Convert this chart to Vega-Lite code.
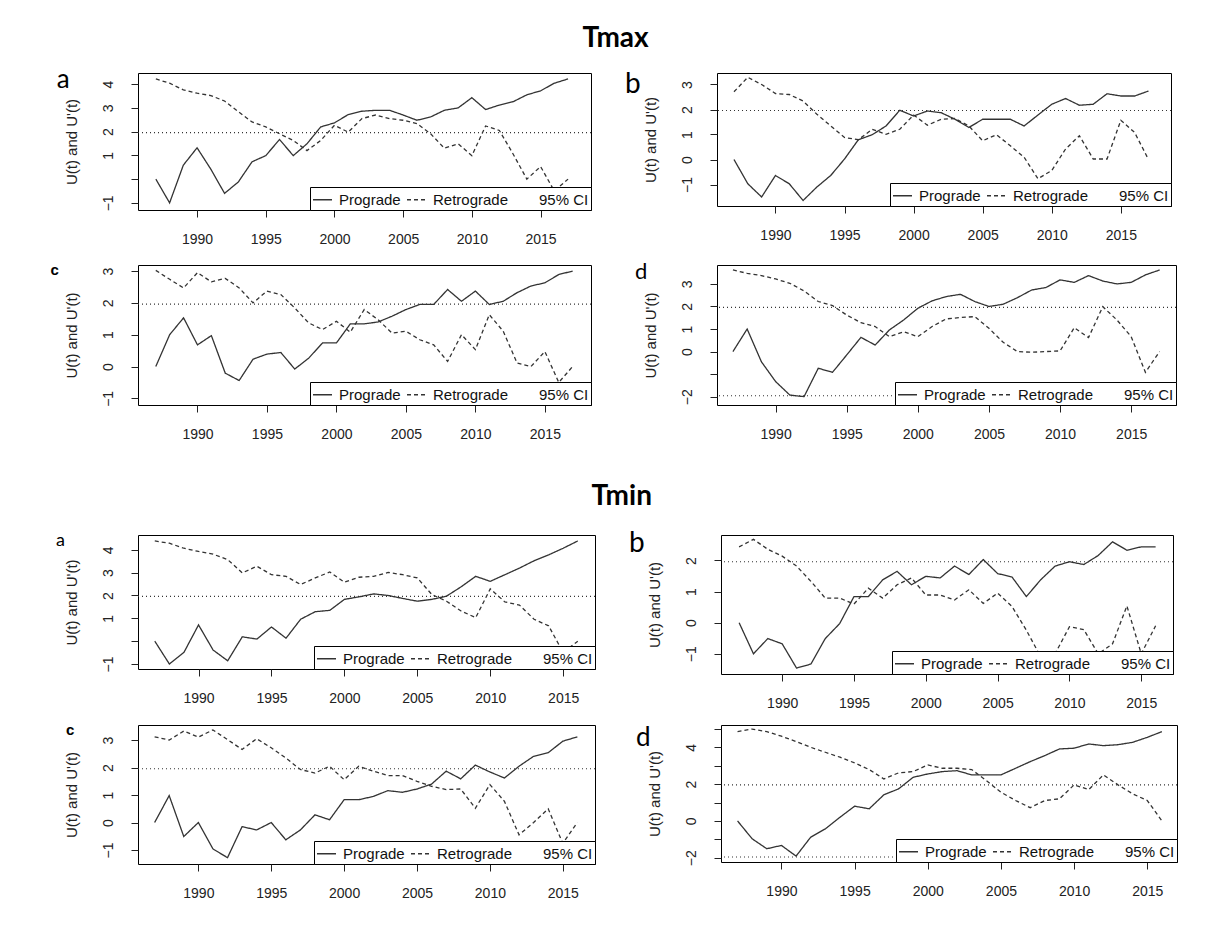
{
"$schema": "https://vega.github.io/schema/vega-lite/v6.json",
"background": "white",
"padding": {"left": 50, "top": 24, "right": 20, "bottom": 20},
"datasets": {
"ci": [
{"panel":"Tmax a","series":"95% CI","u":1.96},
{"panel":"Tmax b","series":"95% CI","u":1.96},
{"panel":"Tmax c","series":"95% CI","u":1.96},
{"panel":"Tmax d","series":"95% CI","u":1.96},
{"panel":"Tmax d","series":"95% CI","u":-1.96},
{"panel":"Tmin a","series":"95% CI","u":1.96},
{"panel":"Tmin b","series":"95% CI","u":1.96},
{"panel":"Tmin c","series":"95% CI","u":1.96},
{"panel":"Tmin d","series":"95% CI","u":1.96},
{"panel":"Tmin d","series":"95% CI","u":-1.96}
],
"mk": [
{"panel":"Tmax a","year":1987,"Prograde":0,"Retrograde":4.22},
{"panel":"Tmax a","year":1988,"Prograde":-1.0,"Retrograde":4.04},
{"panel":"Tmax a","year":1989,"Prograde":0.59,"Retrograde":3.76},
{"panel":"Tmax a","year":1990,"Prograde":1.32,"Retrograde":3.62},
{"panel":"Tmax a","year":1991,"Prograde":0.42,"Retrograde":3.52},
{"panel":"Tmax a","year":1992,"Prograde":-0.6,"Retrograde":3.29},
{"panel":"Tmax a","year":1993,"Prograde":-0.12,"Retrograde":2.84},
{"panel":"Tmax a","year":1994,"Prograde":0.73,"Retrograde":2.41},
{"panel":"Tmax a","year":1995,"Prograde":0.99,"Retrograde":2.2},
{"panel":"Tmax a","year":1996,"Prograde":1.67,"Retrograde":1.91},
{"panel":"Tmax a","year":1997,"Prograde":0.99,"Retrograde":1.63},
{"panel":"Tmax a","year":1998,"Prograde":1.49,"Retrograde":1.2},
{"panel":"Tmax a","year":1999,"Prograde":2.2,"Retrograde":1.63},
{"panel":"Tmax a","year":2000,"Prograde":2.37,"Retrograde":2.27},
{"panel":"Tmax a","year":2001,"Prograde":2.72,"Retrograde":1.98},
{"panel":"Tmax a","year":2002,"Prograde":2.86,"Retrograde":2.55},
{"panel":"Tmax a","year":2003,"Prograde":2.9,"Retrograde":2.7},
{"panel":"Tmax a","year":2004,"Prograde":2.9,"Retrograde":2.55},
{"panel":"Tmax a","year":2005,"Prograde":2.7,"Retrograde":2.48},
{"panel":"Tmax a","year":2006,"Prograde":2.48,"Retrograde":2.34},
{"panel":"Tmax a","year":2007,"Prograde":2.62,"Retrograde":1.91},
{"panel":"Tmax a","year":2008,"Prograde":2.9,"Retrograde":1.3},
{"panel":"Tmax a","year":2009,"Prograde":3.0,"Retrograde":1.49},
{"panel":"Tmax a","year":2010,"Prograde":3.43,"Retrograde":0.99},
{"panel":"Tmax a","year":2011,"Prograde":2.93,"Retrograde":2.24},
{"panel":"Tmax a","year":2012,"Prograde":3.12,"Retrograde":2.05},
{"panel":"Tmax a","year":2013,"Prograde":3.26,"Retrograde":1.06},
{"panel":"Tmax a","year":2014,"Prograde":3.55,"Retrograde":0.0},
{"panel":"Tmax a","year":2015,"Prograde":3.72,"Retrograde":0.53},
{"panel":"Tmax a","year":2016,"Prograde":4.04,"Retrograde":-0.5},
{"panel":"Tmax a","year":2017,"Prograde":4.22,"Retrograde":0},
{"panel":"Tmax b","year":1987,"Prograde":0,"Retrograde":2.71},
{"panel":"Tmax b","year":1988,"Prograde":-0.97,"Retrograde":3.29},
{"panel":"Tmax b","year":1989,"Prograde":-1.5,"Retrograde":3.0},
{"panel":"Tmax b","year":1990,"Prograde":-0.64,"Retrograde":2.64},
{"panel":"Tmax b","year":1991,"Prograde":-0.97,"Retrograde":2.6},
{"panel":"Tmax b","year":1992,"Prograde":-1.64,"Retrograde":2.34},
{"panel":"Tmax b","year":1993,"Prograde":-1.1,"Retrograde":1.81},
{"panel":"Tmax b","year":1994,"Prograde":-0.64,"Retrograde":1.34},
{"panel":"Tmax b","year":1995,"Prograde":0.02,"Retrograde":0.88},
{"panel":"Tmax b","year":1996,"Prograde":0.79,"Retrograde":0.79},
{"panel":"Tmax b","year":1997,"Prograde":0.99,"Retrograde":1.21},
{"panel":"Tmax b","year":1998,"Prograde":1.34,"Retrograde":1.01},
{"panel":"Tmax b","year":1999,"Prograde":1.97,"Retrograde":1.21},
{"panel":"Tmax b","year":2000,"Prograde":1.74,"Retrograde":1.78},
{"panel":"Tmax b","year":2001,"Prograde":1.94,"Retrograde":1.37},
{"panel":"Tmax b","year":2002,"Prograde":1.87,"Retrograde":1.61},
{"panel":"Tmax b","year":2003,"Prograde":1.61,"Retrograde":1.64},
{"panel":"Tmax b","year":2004,"Prograde":1.28,"Retrograde":1.34},
{"panel":"Tmax b","year":2005,"Prograde":1.61,"Retrograde":0.75},
{"panel":"Tmax b","year":2006,"Prograde":1.61,"Retrograde":0.99},
{"panel":"Tmax b","year":2007,"Prograde":1.61,"Retrograde":0.55},
{"panel":"Tmax b","year":2008,"Prograde":1.34,"Retrograde":0.09},
{"panel":"Tmax b","year":2009,"Prograde":1.78,"Retrograde":-0.77},
{"panel":"Tmax b","year":2010,"Prograde":2.21,"Retrograde":-0.44},
{"panel":"Tmax b","year":2011,"Prograde":2.44,"Retrograde":0.42},
{"panel":"Tmax b","year":2012,"Prograde":2.17,"Retrograde":0.95},
{"panel":"Tmax b","year":2013,"Prograde":2.21,"Retrograde":0.02},
{"panel":"Tmax b","year":2014,"Prograde":2.63,"Retrograde":0.02},
{"panel":"Tmax b","year":2015,"Prograde":2.54,"Retrograde":1.57},
{"panel":"Tmax b","year":2016,"Prograde":2.54,"Retrograde":1.08},
{"panel":"Tmax b","year":2017,"Prograde":2.74,"Retrograde":0},
{"panel":"Tmax c","year":1987,"Prograde":0,"Retrograde":3.02},
{"panel":"Tmax c","year":1988,"Prograde":1.0,"Retrograde":2.74},
{"panel":"Tmax c","year":1989,"Prograde":1.53,"Retrograde":2.47},
{"panel":"Tmax c","year":1990,"Prograde":0.68,"Retrograde":2.95},
{"panel":"Tmax c","year":1991,"Prograde":0.97,"Retrograde":2.66},
{"panel":"Tmax c","year":1992,"Prograde":-0.21,"Retrograde":2.77},
{"panel":"Tmax c","year":1993,"Prograde":-0.44,"Retrograde":2.47},
{"panel":"Tmax c","year":1994,"Prograde":0.23,"Retrograde":2.0},
{"panel":"Tmax c","year":1995,"Prograde":0.39,"Retrograde":2.37},
{"panel":"Tmax c","year":1996,"Prograde":0.44,"Retrograde":2.26},
{"panel":"Tmax c","year":1997,"Prograde":-0.08,"Retrograde":1.84},
{"panel":"Tmax c","year":1998,"Prograde":0.26,"Retrograde":1.37},
{"panel":"Tmax c","year":1999,"Prograde":0.74,"Retrograde":1.16},
{"panel":"Tmax c","year":2000,"Prograde":0.74,"Retrograde":1.42},
{"panel":"Tmax c","year":2001,"Prograde":1.34,"Retrograde":1.08},
{"panel":"Tmax c","year":2002,"Prograde":1.34,"Retrograde":1.79},
{"panel":"Tmax c","year":2003,"Prograde":1.4,"Retrograde":1.47},
{"panel":"Tmax c","year":2004,"Prograde":1.58,"Retrograde":1.05},
{"panel":"Tmax c","year":2005,"Prograde":1.79,"Retrograde":1.11},
{"panel":"Tmax c","year":2006,"Prograde":1.95,"Retrograde":0.84},
{"panel":"Tmax c","year":2007,"Prograde":1.95,"Retrograde":0.68},
{"panel":"Tmax c","year":2008,"Prograde":2.42,"Retrograde":0.16},
{"panel":"Tmax c","year":2009,"Prograde":2.05,"Retrograde":1.0},
{"panel":"Tmax c","year":2010,"Prograde":2.37,"Retrograde":0.53},
{"panel":"Tmax c","year":2011,"Prograde":1.95,"Retrograde":1.63},
{"panel":"Tmax c","year":2012,"Prograde":2.05,"Retrograde":1.11},
{"panel":"Tmax c","year":2013,"Prograde":2.32,"Retrograde":0.11},
{"panel":"Tmax c","year":2014,"Prograde":2.53,"Retrograde":0.0},
{"panel":"Tmax c","year":2015,"Prograde":2.63,"Retrograde":0.47},
{"panel":"Tmax c","year":2016,"Prograde":2.89,"Retrograde":-0.5},
{"panel":"Tmax c","year":2017,"Prograde":3.0,"Retrograde":0},
{"panel":"Tmax d","year":1987,"Prograde":0,"Retrograde":3.62},
{"panel":"Tmax d","year":1988,"Prograde":1.0,"Retrograde":3.47},
{"panel":"Tmax d","year":1989,"Prograde":-0.45,"Retrograde":3.37},
{"panel":"Tmax d","year":1990,"Prograde":-1.33,"Retrograde":3.22},
{"panel":"Tmax d","year":1991,"Prograde":-1.93,"Retrograde":3.03},
{"panel":"Tmax d","year":1992,"Prograde":-2.0,"Retrograde":2.69},
{"panel":"Tmax d","year":1993,"Prograde":-0.74,"Retrograde":2.22},
{"panel":"Tmax d","year":1994,"Prograde":-0.92,"Retrograde":2.04},
{"panel":"Tmax d","year":1995,"Prograde":-0.15,"Retrograde":1.62},
{"panel":"Tmax d","year":1996,"Prograde":0.63,"Retrograde":1.28},
{"panel":"Tmax d","year":1997,"Prograde":0.29,"Retrograde":1.11},
{"panel":"Tmax d","year":1998,"Prograde":0.96,"Retrograde":0.66},
{"panel":"Tmax d","year":1999,"Prograde":1.4,"Retrograde":0.88},
{"panel":"Tmax d","year":2000,"Prograde":1.92,"Retrograde":0.66},
{"panel":"Tmax d","year":2001,"Prograde":2.25,"Retrograde":1.11},
{"panel":"Tmax d","year":2002,"Prograde":2.44,"Retrograde":1.45},
{"panel":"Tmax d","year":2003,"Prograde":2.54,"Retrograde":1.51},
{"panel":"Tmax d","year":2004,"Prograde":2.22,"Retrograde":1.55},
{"panel":"Tmax d","year":2005,"Prograde":2.0,"Retrograde":1.03},
{"panel":"Tmax d","year":2006,"Prograde":2.1,"Retrograde":0.41},
{"panel":"Tmax d","year":2007,"Prograde":2.39,"Retrograde":0.0},
{"panel":"Tmax d","year":2008,"Prograde":2.73,"Retrograde":-0.03},
{"panel":"Tmax d","year":2009,"Prograde":2.84,"Retrograde":0.0},
{"panel":"Tmax d","year":2010,"Prograde":3.18,"Retrograde":0.03},
{"panel":"Tmax d","year":2011,"Prograde":3.07,"Retrograde":1.06},
{"panel":"Tmax d","year":2012,"Prograde":3.37,"Retrograde":0.62},
{"panel":"Tmax d","year":2013,"Prograde":3.13,"Retrograde":1.99},
{"panel":"Tmax d","year":2014,"Prograde":3.0,"Retrograde":1.4},
{"panel":"Tmax d","year":2015,"Prograde":3.07,"Retrograde":0.66},
{"panel":"Tmax d","year":2016,"Prograde":3.4,"Retrograde":-0.92},
{"panel":"Tmax d","year":2017,"Prograde":3.62,"Retrograde":0},
{"panel":"Tmin a","year":1987,"Prograde":0,"Retrograde":4.39},
{"panel":"Tmin a","year":1988,"Prograde":-1.0,"Retrograde":4.29},
{"panel":"Tmin a","year":1989,"Prograde":-0.49,"Retrograde":4.07},
{"panel":"Tmin a","year":1990,"Prograde":0.71,"Retrograde":3.93},
{"panel":"Tmin a","year":1991,"Prograde":-0.39,"Retrograde":3.81},
{"panel":"Tmin a","year":1992,"Prograde":-0.86,"Retrograde":3.57},
{"panel":"Tmin a","year":1993,"Prograde":0.19,"Retrograde":2.99},
{"panel":"Tmin a","year":1994,"Prograde":0.09,"Retrograde":3.28},
{"panel":"Tmin a","year":1995,"Prograde":0.62,"Retrograde":2.91},
{"panel":"Tmin a","year":1996,"Prograde":0.13,"Retrograde":2.84},
{"panel":"Tmin a","year":1997,"Prograde":0.96,"Retrograde":2.48},
{"panel":"Tmin a","year":1998,"Prograde":1.29,"Retrograde":2.77},
{"panel":"Tmin a","year":1999,"Prograde":1.35,"Retrograde":3.03},
{"panel":"Tmin a","year":2000,"Prograde":1.83,"Retrograde":2.58},
{"panel":"Tmin a","year":2001,"Prograde":1.94,"Retrograde":2.8},
{"panel":"Tmin a","year":2002,"Prograde":2.07,"Retrograde":2.84},
{"panel":"Tmin a","year":2003,"Prograde":2.0,"Retrograde":3.01},
{"panel":"Tmin a","year":2004,"Prograde":1.87,"Retrograde":2.91},
{"panel":"Tmin a","year":2005,"Prograde":1.75,"Retrograde":2.77},
{"panel":"Tmin a","year":2006,"Prograde":1.83,"Retrograde":2.04},
{"panel":"Tmin a","year":2007,"Prograde":1.97,"Retrograde":1.75},
{"panel":"Tmin a","year":2008,"Prograde":2.38,"Retrograde":1.32},
{"panel":"Tmin a","year":2009,"Prograde":2.84,"Retrograde":1.03},
{"panel":"Tmin a","year":2010,"Prograde":2.62,"Retrograde":2.29},
{"panel":"Tmin a","year":2011,"Prograde":2.91,"Retrograde":1.72},
{"panel":"Tmin a","year":2012,"Prograde":3.2,"Retrograde":1.58},
{"panel":"Tmin a","year":2013,"Prograde":3.52,"Retrograde":0.96},
{"panel":"Tmin a","year":2014,"Prograde":3.78,"Retrograde":0.67},
{"panel":"Tmin a","year":2015,"Prograde":4.07,"Retrograde":-0.5},
{"panel":"Tmin a","year":2016,"Prograde":4.39,"Retrograde":0},
{"panel":"Tmin b","year":1987,"Prograde":0,"Retrograde":2.44},
{"panel":"Tmin b","year":1988,"Prograde":-1.0,"Retrograde":2.68},
{"panel":"Tmin b","year":1989,"Prograde":-0.51,"Retrograde":2.36},
{"panel":"Tmin b","year":1990,"Prograde":-0.68,"Retrograde":2.14},
{"panel":"Tmin b","year":1991,"Prograde":-1.46,"Retrograde":1.82},
{"panel":"Tmin b","year":1992,"Prograde":-1.33,"Retrograde":1.33},
{"panel":"Tmin b","year":1993,"Prograde":-0.51,"Retrograde":0.79},
{"panel":"Tmin b","year":1994,"Prograde":-0.03,"Retrograde":0.79},
{"panel":"Tmin b","year":1995,"Prograde":0.84,"Retrograde":0.6},
{"panel":"Tmin b","year":1996,"Prograde":0.84,"Retrograde":1.11},
{"panel":"Tmin b","year":1997,"Prograde":1.38,"Retrograde":0.79},
{"panel":"Tmin b","year":1998,"Prograde":1.65,"Retrograde":1.22},
{"panel":"Tmin b","year":1999,"Prograde":1.22,"Retrograde":1.44},
{"panel":"Tmin b","year":2000,"Prograde":1.49,"Retrograde":0.89},
{"panel":"Tmin b","year":2001,"Prograde":1.44,"Retrograde":0.89},
{"panel":"Tmin b","year":2002,"Prograde":1.82,"Retrograde":0.73},
{"panel":"Tmin b","year":2003,"Prograde":1.55,"Retrograde":1.06},
{"panel":"Tmin b","year":2004,"Prograde":2.03,"Retrograde":0.62},
{"panel":"Tmin b","year":2005,"Prograde":1.58,"Retrograde":0.95},
{"panel":"Tmin b","year":2006,"Prograde":1.47,"Retrograde":0.52},
{"panel":"Tmin b","year":2007,"Prograde":0.84,"Retrograde":-0.24},
{"panel":"Tmin b","year":2008,"Prograde":1.38,"Retrograde":-1.1},
{"panel":"Tmin b","year":2009,"Prograde":1.82,"Retrograde":-1.0},
{"panel":"Tmin b","year":2010,"Prograde":1.96,"Retrograde":-0.13},
{"panel":"Tmin b","year":2011,"Prograde":1.87,"Retrograde":-0.22},
{"panel":"Tmin b","year":2012,"Prograde":2.16,"Retrograde":-1.0},
{"panel":"Tmin b","year":2013,"Prograde":2.6,"Retrograde":-0.68},
{"panel":"Tmin b","year":2014,"Prograde":2.33,"Retrograde":0.54},
{"panel":"Tmin b","year":2015,"Prograde":2.44,"Retrograde":-1.0},
{"panel":"Tmin b","year":2016,"Prograde":2.44,"Retrograde":-0.1},
{"panel":"Tmin c","year":1987,"Prograde":0,"Retrograde":3.12},
{"panel":"Tmin c","year":1988,"Prograde":0.98,"Retrograde":3.0},
{"panel":"Tmin c","year":1989,"Prograde":-0.51,"Retrograde":3.33},
{"panel":"Tmin c","year":1990,"Prograde":0,"Retrograde":3.11},
{"panel":"Tmin c","year":1991,"Prograde":-0.96,"Retrograde":3.37},
{"panel":"Tmin c","year":1992,"Prograde":-1.28,"Retrograde":3.02},
{"panel":"Tmin c","year":1993,"Prograde":-0.15,"Retrograde":2.66},
{"panel":"Tmin c","year":1994,"Prograde":-0.27,"Retrograde":3.05},
{"panel":"Tmin c","year":1995,"Prograde":0.0,"Retrograde":2.72},
{"panel":"Tmin c","year":1996,"Prograde":-0.63,"Retrograde":2.35},
{"panel":"Tmin c","year":1997,"Prograde":-0.27,"Retrograde":1.93},
{"panel":"Tmin c","year":1998,"Prograde":0.28,"Retrograde":1.8},
{"panel":"Tmin c","year":1999,"Prograde":0.1,"Retrograde":2.05},
{"panel":"Tmin c","year":2000,"Prograde":0.83,"Retrograde":1.56},
{"panel":"Tmin c","year":2001,"Prograde":0.83,"Retrograde":2.05},
{"panel":"Tmin c","year":2002,"Prograde":0.95,"Retrograde":1.87},
{"panel":"Tmin c","year":2003,"Prograde":1.16,"Retrograde":1.71},
{"panel":"Tmin c","year":2004,"Prograde":1.1,"Retrograde":1.71},
{"panel":"Tmin c","year":2005,"Prograde":1.22,"Retrograde":1.5},
{"panel":"Tmin c","year":2006,"Prograde":1.4,"Retrograde":1.32},
{"panel":"Tmin c","year":2007,"Prograde":1.87,"Retrograde":1.2},
{"panel":"Tmin c","year":2008,"Prograde":1.59,"Retrograde":1.22},
{"panel":"Tmin c","year":2009,"Prograde":2.09,"Retrograde":0.52},
{"panel":"Tmin c","year":2010,"Prograde":1.84,"Retrograde":1.38},
{"panel":"Tmin c","year":2011,"Prograde":1.62,"Retrograde":0.77},
{"panel":"Tmin c","year":2012,"Prograde":2.05,"Retrograde":-0.45},
{"panel":"Tmin c","year":2013,"Prograde":2.41,"Retrograde":0.0},
{"panel":"Tmin c","year":2014,"Prograde":2.54,"Retrograde":0.5},
{"panel":"Tmin c","year":2015,"Prograde":2.96,"Retrograde":-0.76},
{"panel":"Tmin c","year":2016,"Prograde":3.12,"Retrograde":0},
{"panel":"Tmin d","year":1987,"Prograde":0,"Retrograde":4.85},
{"panel":"Tmin d","year":1988,"Prograde":-0.97,"Retrograde":4.99},
{"panel":"Tmin d","year":1989,"Prograde":-1.51,"Retrograde":4.85},
{"panel":"Tmin d","year":1990,"Prograde":-1.33,"Retrograde":4.6},
{"panel":"Tmin d","year":1991,"Prograde":-1.91,"Retrograde":4.31},
{"panel":"Tmin d","year":1992,"Prograde":-0.88,"Retrograde":4.0},
{"panel":"Tmin d","year":1993,"Prograde":-0.43,"Retrograde":3.73},
{"panel":"Tmin d","year":1994,"Prograde":0.2,"Retrograde":3.46},
{"panel":"Tmin d","year":1995,"Prograde":0.8,"Retrograde":3.15},
{"panel":"Tmin d","year":1996,"Prograde":0.66,"Retrograde":2.79},
{"panel":"Tmin d","year":1997,"Prograde":1.42,"Retrograde":2.28},
{"panel":"Tmin d","year":1998,"Prograde":1.74,"Retrograde":2.61},
{"panel":"Tmin d","year":1999,"Prograde":2.37,"Retrograde":2.68},
{"panel":"Tmin d","year":2000,"Prograde":2.55,"Retrograde":3.04},
{"panel":"Tmin d","year":2001,"Prograde":2.68,"Retrograde":2.86},
{"panel":"Tmin d","year":2002,"Prograde":2.73,"Retrograde":2.86},
{"panel":"Tmin d","year":2003,"Prograde":2.5,"Retrograde":2.79},
{"panel":"Tmin d","year":2004,"Prograde":2.5,"Retrograde":2.19},
{"panel":"Tmin d","year":2005,"Prograde":2.5,"Retrograde":1.56},
{"panel":"Tmin d","year":2006,"Prograde":2.86,"Retrograde":1.11},
{"panel":"Tmin d","year":2007,"Prograde":3.22,"Retrograde":0.72},
{"panel":"Tmin d","year":2008,"Prograde":3.55,"Retrograde":1.11},
{"panel":"Tmin d","year":2009,"Prograde":3.91,"Retrograde":1.2},
{"panel":"Tmin d","year":2010,"Prograde":3.95,"Retrograde":1.96},
{"panel":"Tmin d","year":2011,"Prograde":4.18,"Retrograde":1.7},
{"panel":"Tmin d","year":2012,"Prograde":4.09,"Retrograde":2.5},
{"panel":"Tmin d","year":2013,"Prograde":4.14,"Retrograde":1.96},
{"panel":"Tmin d","year":2014,"Prograde":4.27,"Retrograde":1.47},
{"panel":"Tmin d","year":2015,"Prograde":4.54,"Retrograde":1.11},
{"panel":"Tmin d","year":2016,"Prograde":4.85,"Retrograde":0}
]
},
"spacing": 40,
"resolve": {"scale": {"x": "independent", "y": "independent", "strokeDash": "independent"}, "legend": {"strokeDash": "independent"}},
"vconcat": [
{
"title": {"text": "Tmax", "anchor": "middle", "frame": "bounds", "fontSize": 28, "fontWeight": "bold", "font": "Lato", "offset": 14, "dx": 2},
"bounds": "flush",
"columns": 2,
"spacing": {"row": 55, "column": 126},
"resolve": {"scale": {"x": "independent", "y": "independent", "strokeDash": "independent"}, "legend": {"strokeDash": "independent"}},
"concat": [
{
"width": 453, "height": 137,
"title": {"text": "a", "fontSize": 26, "offset": -20, "dx": -7.3},
"encoding": {
"y": {"field": "u", "type": "quantitative", "title": "U(t) and U'(t)", "scale": {"domain": [-1.3, 4.47], "nice": false, "zero": false}, "axis": {"values": [-1,0,1,2,3,4], "labelExpr": "datum.value === 0 ? '' : datum.label"}},
"strokeDash": {"field": "series", "type": "nominal", "scale": {"domain": ["Prograde","Retrograde","95% CI"], "range": [[1,0],[4,3],[1,3]]}, "legend": {"title": null, "encode": {"symbols": {"update": {"opacity": {"signal": "datum.value === '95% CI' ? 0 : 1"}}}}}}
},
"layer": [
{"data": {"name": "ci"}, "transform": [{"filter": "datum.panel === 'Tmax a'"}], "mark": {"type": "rule", "color": "#333", "strokeWidth": 1.1}, "encoding": {}},
{"data": {"name": "mk"}, "transform": [{"filter": "datum.panel === 'Tmax a'"}, {"fold": ["Prograde","Retrograde"], "as": ["series","u"]}], "mark": {"type": "line", "color": "#333", "strokeWidth": 1.3}, "encoding": {"x": {"field": "year", "type": "quantitative", "title": null, "scale": {"domain": [1985.7, 2018.67], "nice": false, "zero": false}, "axis": {"values": [1990,1995,2000,2005,2010,2015], "format": "d"}}}}
]
},
{
"width": 454, "height": 133,
"title": {"text": "b", "fontSize": 28, "offset": -26, "dx": -18},
"encoding": {
"y": {"field": "u", "type": "quantitative", "title": "U(t) and U'(t)", "scale": {"domain": [-1.86, 3.46], "nice": false, "zero": false}, "axis": {"values": [-1,0,1,2,3]}},
"strokeDash": {"field": "series", "type": "nominal", "scale": {"domain": ["Prograde","Retrograde","95% CI"], "range": [[1,0],[4,3],[1,3]]}, "legend": {"title": null, "encode": {"symbols": {"update": {"opacity": {"signal": "datum.value === '95% CI' ? 0 : 1"}}}}}}
},
"layer": [
{"data": {"name": "ci"}, "transform": [{"filter": "datum.panel === 'Tmax b'"}], "mark": {"type": "rule", "color": "#333", "strokeWidth": 1.1}, "encoding": {}},
{"data": {"name": "mk"}, "transform": [{"filter": "datum.panel === 'Tmax b'"}, {"fold": ["Prograde","Retrograde"], "as": ["series","u"]}], "mark": {"type": "line", "color": "#333", "strokeWidth": 1.3}, "encoding": {"x": {"field": "year", "type": "quantitative", "title": null, "scale": {"domain": [1985.77, 2018.63], "nice": false, "zero": false}, "axis": {"values": [1990,1995,2000,2005,2010,2015], "format": "d"}}}}
]
},
{
"width": 453, "height": 140,
"title": {"text": "c", "fontSize": 15, "font": "Liberation Sans", "fontWeight": "bold", "offset": -13, "dx": -13.4},
"encoding": {
"y": {"field": "u", "type": "quantitative", "title": "U(t) and U'(t)", "scale": {"domain": [-1.21, 3.19], "nice": false, "zero": false}, "axis": {"values": [-1,0,1,2,3]}},
"strokeDash": {"field": "series", "type": "nominal", "scale": {"domain": ["Prograde","Retrograde","95% CI"], "range": [[1,0],[4,3],[1,3]]}, "legend": {"title": null, "encode": {"symbols": {"update": {"opacity": {"signal": "datum.value === '95% CI' ? 0 : 1"}}}}}}
},
"layer": [
{"data": {"name": "ci"}, "transform": [{"filter": "datum.panel === 'Tmax c'"}], "mark": {"type": "rule", "color": "#333", "strokeWidth": 1.1}, "encoding": {}},
{"data": {"name": "mk"}, "transform": [{"filter": "datum.panel === 'Tmax c'"}, {"fold": ["Prograde","Retrograde"], "as": ["series","u"]}], "mark": {"type": "line", "color": "#333", "strokeWidth": 1.3}, "encoding": {"x": {"field": "year", "type": "quantitative", "title": null, "scale": {"domain": [1985.72, 2018.32], "nice": false, "zero": false}, "axis": {"values": [1990,1995,2000,2005,2010,2015], "format": "d"}}}}
]
},
{
"width": 459, "height": 140,
"title": {"text": "d", "fontSize": 22, "offset": -18.6, "dx": -8},
"encoding": {
"y": {"field": "u", "type": "quantitative", "title": "U(t) and U'(t)", "scale": {"domain": [-2.37, 3.84], "nice": false, "zero": false}, "axis": {"values": [-2,-1,0,1,2,3], "labelExpr": "datum.value === -1 ? '' : datum.label"}},
"strokeDash": {"field": "series", "type": "nominal", "scale": {"domain": ["Prograde","Retrograde","95% CI"], "range": [[1,0],[4,3],[1,3]]}, "legend": {"title": null, "encode": {"symbols": {"update": {"opacity": {"signal": "datum.value === '95% CI' ? 0 : 1"}}}}}}
},
"layer": [
{"data": {"name": "ci"}, "transform": [{"filter": "datum.panel === 'Tmax d'"}], "mark": {"type": "rule", "color": "#333", "strokeWidth": 1.1}, "encoding": {}},
{"data": {"name": "mk"}, "transform": [{"filter": "datum.panel === 'Tmax d'"}, {"fold": ["Prograde","Retrograde"], "as": ["series","u"]}], "mark": {"type": "line", "color": "#333", "strokeWidth": 1.3}, "encoding": {"x": {"field": "year", "type": "quantitative", "title": null, "scale": {"domain": [1985.88, 2018.15], "nice": false, "zero": false}, "axis": {"values": [1990,1995,2000,2005,2010,2015], "format": "d"}}}}
]
}
]
},
{
"title": {"text": "Tmin", "anchor": "middle", "frame": "bounds", "fontSize": 28, "fontWeight": "bold", "font": "Lato", "offset": 19, "dx": 5},
"bounds": "flush",
"columns": 2,
"spacing": {"row": 51, "column": 126},
"resolve": {"scale": {"x": "independent", "y": "independent", "strokeDash": "independent"}, "legend": {"strokeDash": "independent"}},
"concat": [
{
"width": 457, "height": 134,
"title": {"text": "a", "fontSize": 18, "offset": -14.8, "dx": -8},
"encoding": {
"y": {"field": "u", "type": "quantitative", "title": "U(t) and U'(t)", "scale": {"domain": [-1.22, 4.65], "nice": false, "zero": false}, "axis": {"values": [-1,0,1,2,3,4], "labelExpr": "datum.value === 0 ? '' : datum.label"}},
"strokeDash": {"field": "series", "type": "nominal", "scale": {"domain": ["Prograde","Retrograde","95% CI"], "range": [[1,0],[4,3],[1,3]]}, "legend": {"title": null, "encode": {"symbols": {"update": {"opacity": {"signal": "datum.value === '95% CI' ? 0 : 1"}}}}}}
},
"layer": [
{"data": {"name": "ci"}, "transform": [{"filter": "datum.panel === 'Tmin a'"}], "mark": {"type": "rule", "color": "#333", "strokeWidth": 1.1}, "encoding": {}},
{"data": {"name": "mk"}, "transform": [{"filter": "datum.panel === 'Tmin a'"}, {"fold": ["Prograde","Retrograde"], "as": ["series","u"]}], "mark": {"type": "line", "color": "#333", "strokeWidth": 1.3}, "encoding": {"x": {"field": "year", "type": "quantitative", "title": null, "scale": {"domain": [1985.85, 2017.18], "nice": false, "zero": false}, "axis": {"values": [1990,1995,2000,2005,2010,2015], "format": "d"}}}}
]
},
{
"width": 452, "height": 139,
"title": {"text": "b", "fontSize": 28, "offset": -23, "dx": -18},
"encoding": {
"y": {"field": "u", "type": "quantitative", "title": "U(t) and U'(t)", "scale": {"domain": [-1.65, 2.82], "nice": false, "zero": false}, "axis": {"values": [-1,0,1,2]}},
"strokeDash": {"field": "series", "type": "nominal", "scale": {"domain": ["Prograde","Retrograde","95% CI"], "range": [[1,0],[4,3],[1,3]]}, "legend": {"title": null, "encode": {"symbols": {"update": {"opacity": {"signal": "datum.value === '95% CI' ? 0 : 1"}}}}}}
},
"layer": [
{"data": {"name": "ci"}, "transform": [{"filter": "datum.panel === 'Tmin b'"}], "mark": {"type": "rule", "color": "#333", "strokeWidth": 1.1}, "encoding": {}},
{"data": {"name": "mk"}, "transform": [{"filter": "datum.panel === 'Tmin b'"}, {"fold": ["Prograde","Retrograde"], "as": ["series","u"]}], "mark": {"type": "line", "color": "#333", "strokeWidth": 1.3}, "encoding": {"x": {"field": "year", "type": "quantitative", "title": null, "scale": {"domain": [1985.74, 2017.21], "nice": false, "zero": false}, "axis": {"values": [1990,1995,2000,2005,2010,2015], "format": "d"}}}}
]
},
{
"width": 457, "height": 139,
"title": {"text": "c", "fontSize": 15, "font": "Liberation Sans", "fontWeight": "bold", "offset": -13, "dx": 2},
"encoding": {
"y": {"field": "u", "type": "quantitative", "title": "U(t) and U'(t)", "scale": {"domain": [-1.51, 3.55], "nice": false, "zero": false}, "axis": {"values": [-1,0,1,2,3]}},
"strokeDash": {"field": "series", "type": "nominal", "scale": {"domain": ["Prograde","Retrograde","95% CI"], "range": [[1,0],[4,3],[1,3]]}, "legend": {"title": null, "encode": {"symbols": {"update": {"opacity": {"signal": "datum.value === '95% CI' ? 0 : 1"}}}}}}
},
"layer": [
{"data": {"name": "ci"}, "transform": [{"filter": "datum.panel === 'Tmin c'"}], "mark": {"type": "rule", "color": "#333", "strokeWidth": 1.1}, "encoding": {}},
{"data": {"name": "mk"}, "transform": [{"filter": "datum.panel === 'Tmin c'"}, {"fold": ["Prograde","Retrograde"], "as": ["series","u"]}], "mark": {"type": "line", "color": "#333", "strokeWidth": 1.3}, "encoding": {"x": {"field": "year", "type": "quantitative", "title": null, "scale": {"domain": [1985.86, 2017.21], "nice": false, "zero": false}, "axis": {"values": [1990,1995,2000,2005,2010,2015], "format": "d"}}}}
]
},
{
"width": 456, "height": 137,
"title": {"text": "d", "fontSize": 26, "offset": -25.5, "dx": -11},
"encoding": {
"y": {"field": "u", "type": "quantitative", "title": "U(t) and U'(t)", "scale": {"domain": [-2.23, 5.21], "nice": false, "zero": false}, "axis": {"values": [-2,-1,0,1,2,3,4,5], "labelExpr": "datum.value % 2 === 0 ? datum.label : ''"}},
"strokeDash": {"field": "series", "type": "nominal", "scale": {"domain": ["Prograde","Retrograde","95% CI"], "range": [[1,0],[4,3],[1,3]]}, "legend": {"title": null, "encode": {"symbols": {"update": {"opacity": {"signal": "datum.value === '95% CI' ? 0 : 1"}}}}}}
},
"layer": [
{"data": {"name": "ci"}, "transform": [{"filter": "datum.panel === 'Tmin d'"}], "mark": {"type": "rule", "color": "#333", "strokeWidth": 1.1}, "encoding": {}},
{"data": {"name": "mk"}, "transform": [{"filter": "datum.panel === 'Tmin d'"}, {"fold": ["Prograde","Retrograde"], "as": ["series","u"]}], "mark": {"type": "line", "color": "#333", "strokeWidth": 1.3}, "encoding": {"x": {"field": "year", "type": "quantitative", "title": null, "scale": {"domain": [1985.87, 2017.03], "nice": false, "zero": false}, "axis": {"values": [1990,1995,2000,2005,2010,2015], "format": "d"}}}}
]
}
]
}
],
"config": {
"font": "Liberation Sans",
"view": {"stroke": "black", "strokeWidth": 1},
"title": {"anchor": "start", "frame": "bounds", "font": "Lato", "fontWeight": "normal", "color": "black"},
"axis": {"domain": false, "grid": false, "tickColor": "#222", "tickSize": 7, "labelFontSize": 14, "labelColor": "#222", "titleFontSize": 15, "titleFontWeight": "normal", "titleColor": "#222", "labelFont": "Liberation Sans", "titleFont": "Liberation Sans"},
"axisX": {"labelPadding": 15},
"axisY": {"labelAngle": -90, "labelAlign": "center", "labelBaseline": "bottom", "labelPadding": 16, "titlePadding": 22},
"legend": {"orient": "bottom-right", "offset": 0, "direction": "horizontal", "fillColor": "white", "strokeColor": "black", "padding": 2, "symbolType": "stroke", "symbolStrokeWidth": 1.3, "symbolStrokeColor": "#333", "symbolSize": 361, "labelFontSize": 15, "labelFont": "Liberation Sans", "labelColor": "#111", "labelOffset": 6, "columnPadding": 3, "cornerRadius": 0}
}
}
